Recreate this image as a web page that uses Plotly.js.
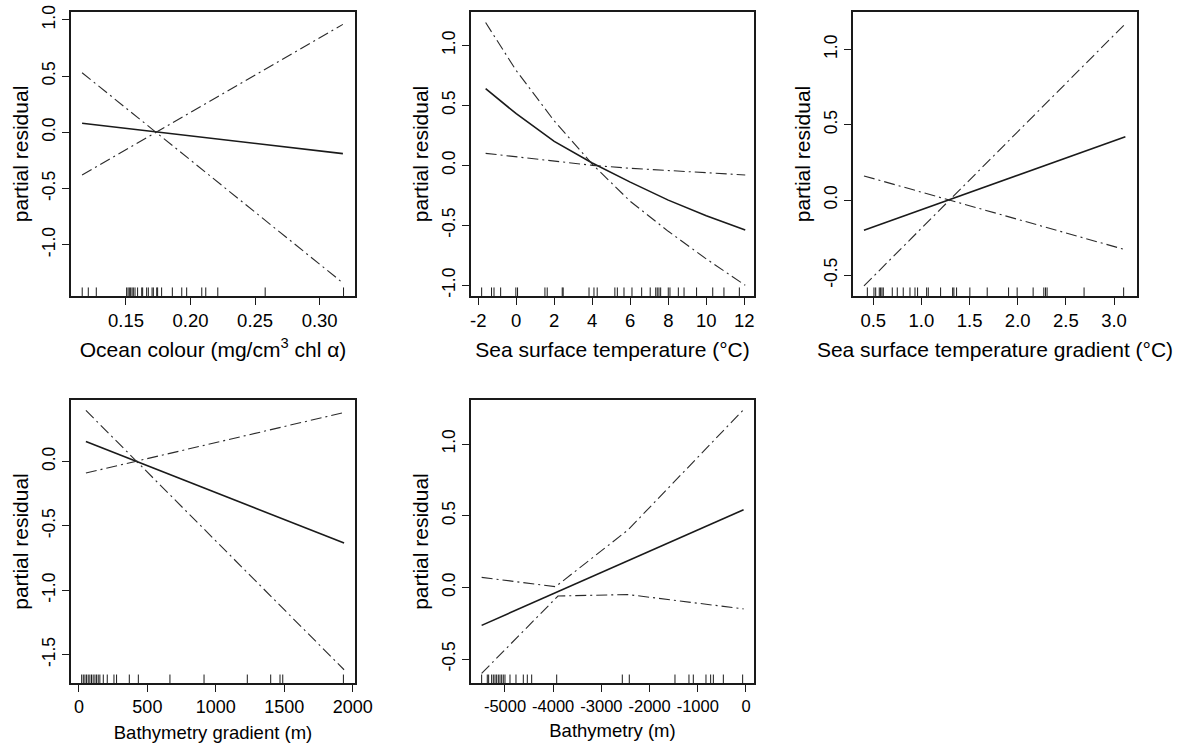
<!DOCTYPE html>
<html>
<head>
<meta charset="utf-8">
<script src="https://cdn.plot.ly/plotly-3.0.1.min.js"></script>
<style>
  html, body { margin: 0; padding: 0; background: #fff; }
  #chart { width: 1187px; height: 745px; }
</style>
</head>
<body>
<div id="chart"></div>
<script>
// ---------- Panel 1: Ocean colour ----------
const ocX = [0.116, 0.318];
const ocFit = [0.08, -0.19];
const ocBandA = [-0.38, 0.96];
const ocBandB = [0.53, -1.34];
const ocRug = [0.1161, 0.1208, 0.127, 0.1505, 0.1516, 0.1526, 0.1536, 0.1547, 0.1557, 0.157, 0.159,
  0.1622, 0.1629, 0.166, 0.1673, 0.1702, 0.1712, 0.1738, 0.1745, 0.1776, 0.1859, 0.1932, 0.197,
  0.2087, 0.2118, 0.2211, 0.2578, 0.3185];
const ocXTicks = [0.15, 0.20, 0.25, 0.30];
const ocXTickText = ["0.15", "0.20", "0.25", "0.30"];
const ocYTicks = [-1.0, -0.5, 0.0, 0.5, 1.0];
const ocYTickText = ["-1.0", "-0.5", "0.0", "0.5", "1.0"];

// ---------- Panel 2: Sea surface temperature ----------
const sstX = [-1.61, 0, 2, 4, 6, 8, 10, 12.05];
const sstFit = [0.64, 0.43, 0.20, 0.02, -0.14, -0.29, -0.42, -0.54];
const sstBandA = [1.19, 0.79, 0.37, 0.01, -0.30, -0.55, -0.78, -1.00];
const sstBandB = [0.10, 0.07, 0.035, 0.0, -0.025, -0.045, -0.065, -0.08];
const sstRug = [-1.82, -1.30, -1.17, -0.82, -0.02, 0.07, 1.51, 1.63, 2.42, 2.47, 3.83, 4.09, 4.26,
  5.19, 5.32, 5.67, 6.09, 6.60, 7.05, 7.34, 7.42, 7.51, 7.60, 8.0, 8.09, 8.53, 8.83, 9.49, 10.34,
  10.93, 11.74];
const sstXTicks = [-2, 0, 2, 4, 6, 8, 10, 12];
const sstXTickText = ["-2", "0", "2", "4", "6", "8", "10", "12"];
const sstYTicks = [-1.0, -0.5, 0.0, 0.5, 1.0];
const sstYTickText = ["-1.0", "-0.5", "0.0", "0.5", "1.0"];

// ---------- Panel 3: Sea surface temperature gradient ----------
const sstgX = [0.403, 3.118];
const sstgFit = [-0.20, 0.42];
const sstgBandA = [-0.57, 1.17];
const sstgBandB = [0.16, -0.33];
const sstgRug = [0.438, 0.507, 0.525, 0.562, 0.576, 0.590, 0.604, 0.697, 0.749, 0.811, 0.881, 0.933,
  0.960, 1.054, 1.071, 1.199, 1.324, 1.337, 1.365, 1.503, 1.683, 1.905, 1.994, 2.160, 2.271, 2.289,
  2.305, 2.689, 3.10];
const sstgXTicks = [0.5, 1.0, 1.5, 2.0, 2.5, 3.0];
const sstgXTickText = ["0.5", "1.0", "1.5", "2.0", "2.5", "3.0"];
const sstgYTicks = [-0.5, 0.0, 0.5, 1.0];
const sstgYTickText = ["-0.5", "0.0", "0.5", "1.0"];

// ---------- Panel 4: Bathymetry gradient ----------
const bgX = [51, 1937];
const bgFit = [0.155, -0.634];
const bgBandA = [0.396, -1.617];
const bgBandB = [-0.09, 0.38];
const bgRug = [20, 32, 44, 56, 68, 80, 92, 104, 117, 129, 141, 153, 178, 207, 256, 275, 368, 434,
  665, 914, 1230, 1401, 1469, 1489, 1932];
const bgXTicks = [0, 500, 1000, 1500, 2000];
const bgXTickText = ["0", "500", "1000", "1500", "2000"];
const bgYTicks = [-1.5, -1.0, -0.5, 0.0];
const bgYTickText = ["-1.5", "-1.0", "-0.5", "0.0"];

// ---------- Panel 5: Bathymetry ----------
const bathX = [-5484, -50];
const bathFit = [-0.265, 0.542];
const bathBandAX = [-5484, -3950, -2450, -50];
const bathBandA = [0.07, 0.005, 0.40, 1.24];
const bathBandBX = [-5484, -3900, -2450, -50];
const bathBandB = [-0.60, -0.06, -0.05, -0.15];
const bathRug = [-5484, -5367, -5339, -5277, -5242, -5207, -5173, -5138, -5104, -5069, -5035, -5000,
  -4896, -4772, -4620, -4537, -4446, -3927, -2566, -2421, -1473, -1183, -1093, -830, -733, -677,
  -470, -69];
const bathXTicks = [-5000, -4000, -3000, -2000, -1000, 0];
const bathXTickText = ["-5000", "-4000", "-3000", "-2000", "-1000", "0"];
const bathYTicks = [-0.5, 0.0, 0.5, 1.0];
const bathYTickText = ["-0.5", "0.0", "0.5", "1.0"];

const yTitle = "partial residual";
const xTitles = [
  "Ocean colour (mg/cm<sup>3</sup> chl α)",
  "Sea surface temperature (°C)",
  "Sea surface temperature gradient (°C)",
  "Bathymetry gradient (m)",
  "Bathymetry (m)"
];

// ---------- styling ----------
const INK = "#1a1a1a";
const FONT = "Liberation Sans, Arial, sans-serif";
const DASH = "11px,4px,2px,4px";
const RUG_H = 0.03;

const panels = [
  {x: ocX, fit: ocFit, ax: ocX, a: ocBandA, bx: ocX, b: ocBandB, rug: ocRug,
   xr: [0.1074, 0.3274], yr: [-1.456, 1.07], xt: ocXTicks, xtt: ocXTickText, yt: ocYTicks, ytt: ocYTickText,
   dx: [0.0598, 0.2991], dy: [0.6027, 0.9839], tsize: 21, xfs: 18.5},
  {x: sstX, fit: sstFit, ax: sstX, a: sstBandA, bx: sstX, b: sstBandB, rug: sstRug,
   xr: [-2.38, 12.51], yr: [-1.089, 1.278], xt: sstXTicks, xtt: sstXTickText, yt: sstYTicks, ytt: sstYTickText,
   dx: [0.3968, 0.6352], dy: [0.6027, 0.9839], tsize: 21, xfs: 18.5},
  {x: sstgX, fit: sstgFit, ax: sstgX, a: sstgBandA, bx: sstgX, b: sstgBandB, rug: sstgRug,
   xr: [0.289, 3.239], yr: [-0.637, 1.248], xt: sstgXTicks, xtt: sstgXTickText, yt: sstgYTicks, ytt: sstgYTickText,
   dx: [0.7186, 0.9579], dy: [0.6027, 0.9839], tsize: 21, xfs: 18.5},
  {x: bgX, fit: bgFit, ax: bgX, a: bgBandA, bx: bgX, b: bgBandB, rug: bgRug,
   xr: [-58, 2017], yr: [-1.72, 0.477], xt: bgXTicks, xtt: bgXTickText, yt: bgYTicks, ytt: bgYTickText,
   dx: [0.0598, 0.2991], dy: [0.0832, 0.4631], tsize: 18.5, xfs: 18},
  {x: bathX, fit: bathFit, ax: bathBandAX, a: bathBandA, bx: bathBandBX, b: bathBandB, rug: bathRug,
   xr: [-5705, 166], yr: [-0.667, 1.307], xt: bathXTicks, xtt: bathXTickText, yt: bathYTicks, ytt: bathYTickText,
   dx: [0.3968, 0.6352], dy: [0.0832, 0.4631], tsize: 18.5, xfs: 16.5}
];

const traces = [];
const layout = {
  width: 1187, height: 745,
  margin: {l: 0, r: 0, t: 0, b: 0},
  paper_bgcolor: "#ffffff", plot_bgcolor: "#ffffff",
  showlegend: false,
  font: {family: FONT, color: "#000"}
};

panels.forEach((p, i) => {
  const n = i + 1;
  const xa = n === 1 ? "x" : "x" + n;
  const ya = n === 1 ? "y" : "y" + n;
  const rugAxisNum = n + 5;
  const ry = "y" + rugAxisNum;

  traces.push({x: p.x, y: p.fit, xaxis: xa, yaxis: ya, mode: "lines", type: "scatter",
    line: {color: INK, width: 1.6}, hoverinfo: "skip"});
  traces.push({x: p.ax, y: p.a, xaxis: xa, yaxis: ya, mode: "lines", type: "scatter",
    line: {color: "#2a2a2a", width: 1.1, dash: DASH}, hoverinfo: "skip"});
  traces.push({x: p.bx, y: p.b, xaxis: xa, yaxis: ya, mode: "lines", type: "scatter",
    line: {color: "#2a2a2a", width: 1.1, dash: DASH}, hoverinfo: "skip"});

  // rug: vertical segments on an overlay axis with range [0,1]
  const rx = [], rys = [];
  p.rug.forEach(v => { rx.push(v, v, null); rys.push(0, RUG_H, null); });
  traces.push({x: rx, y: rys, xaxis: xa, yaxis: ry, mode: "lines", type: "scatter",
    line: {color: INK, width: 1}, hoverinfo: "skip", cliponaxis: false});

  const common = {
    showline: true, mirror: true, linecolor: INK, linewidth: 1.7,
    ticks: "outside", ticklen: 7, tickwidth: 1, tickcolor: INK,
    showgrid: false, zeroline: false, fixedrange: true
  };
  layout["xaxis" + (n === 1 ? "" : n)] = Object.assign({}, common, {
    domain: p.dx, range: p.xr, anchor: ya, tickmode: "array", tickvals: p.xt, ticktext: p.xtt,
    tickangle: 0,
    tickfont: {family: FONT, size: p.xfs, color: "#000"},
    title: {text: xTitles[i], font: {family: FONT, size: p.tsize, color: "#000"}, standoff: n <= 3 ? 12 : 10}
  });
  layout["yaxis" + (n === 1 ? "" : n)] = Object.assign({}, common, {
    domain: p.dy, range: p.yr, anchor: xa, tickmode: "array", tickvals: p.yt, ticktext: p.ytt,
    tickangle: -90,
    tickfont: {family: FONT, size: 17.5, color: "#000"},
    title: {text: yTitle, font: {family: FONT, size: 21, color: "#000"}, standoff: 5}
  });
  layout["yaxis" + rugAxisNum] = {
    overlaying: ya, anchor: xa, range: [0, 1], visible: false, fixedrange: true,
    showgrid: false, zeroline: false
  };
});

Plotly.newPlot("chart", traces, layout, {staticPlot: true, displayModeBar: false});
</script>
</body>
</html>
